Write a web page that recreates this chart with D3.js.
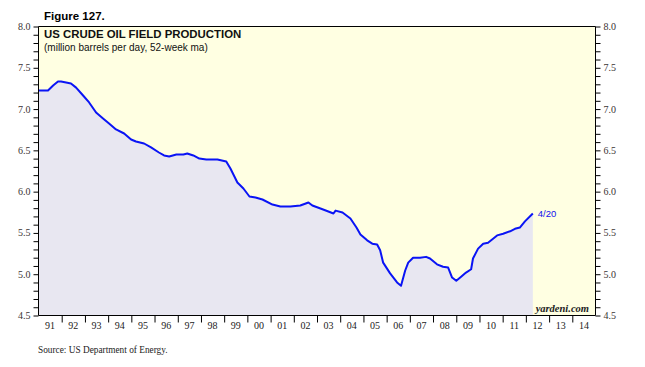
<!DOCTYPE html>
<html><head><meta charset="utf-8">
<script src="https://cdn.jsdelivr.net/npm/d3@7"></script>
<style>body{margin:0;background:#fff}svg{display:block}</style>
</head><body>
<svg id="c" width="645" height="367"></svg>
<script>
// decimal year of each reading
const years = [1991.0,1991.41,1991.63,1991.84,1991.97,1992.19,1992.40,1992.62,1992.92,1993.18,1993.48,1993.78,1994.04,1994.34,1994.69,1994.99,1995.20,1995.55,1995.85,1996.19,1996.41,1996.63,1996.94,1997.24,1997.41,1997.67,1997.93,1998.23,1998.71,1999.09,1999.27,1999.57,1999.83,2000.09,2000.35,2000.65,2001.08,2001.42,2001.85,2002.28,2002.63,2002.80,2003.15,2003.49,2003.71,2003.80,2004.10,2004.44,2004.70,2004.87,2005.16,2005.38,2005.59,2005.72,2005.85,2006.15,2006.45,2006.62,2006.80,2006.93,2007.14,2007.44,2007.70,2007.87,2008.17,2008.43,2008.65,2008.82,2009.00,2009.17,2009.42,2009.64,2009.72,2009.94,2010.16,2010.37,2010.76,2011.02,2011.32,2011.53,2011.74,2011.96,2012.30];
// million barrels per day, 52-week moving average
const production = [7.225,7.225,7.285,7.334,7.334,7.322,7.31,7.26,7.164,7.08,6.958,6.886,6.825,6.753,6.704,6.631,6.607,6.583,6.535,6.474,6.438,6.426,6.45,6.45,6.462,6.438,6.401,6.389,6.389,6.365,6.28,6.11,6.038,5.941,5.929,5.905,5.844,5.82,5.82,5.832,5.869,5.832,5.796,5.76,5.735,5.77,5.747,5.675,5.566,5.482,5.41,5.37,5.36,5.29,5.14,5.01,4.90,4.86,5.045,5.14,5.20,5.20,5.21,5.19,5.12,5.09,5.08,4.96,4.92,4.96,5.02,5.06,5.19,5.31,5.37,5.38,5.47,5.49,5.52,5.55,5.565,5.64,5.735];
const yTicks = [4.5,5.0,5.5,6.0,6.5,7.0,7.5,8.0];
const yearLabels = ["91","92","93","94","95","96","97","98","99","00","01","02","03","04","05","06","07","08","09","10","11","12","13","14"];
const lastLabel = "4/20";

const toDate = y => { const yr = Math.floor(y); const s = new Date(yr,0,1), e = new Date(yr+1,0,1); return new Date(+s + (y-yr)*(e-s)); };
const data = years.map((y,i)=>({d:toDate(y), v:production[i]}));

const svg = d3.select("#c");
const L=38.5, R=595.5, T=26.5, B=315.5;
const x = d3.scaleTime().domain([new Date(1991,0,1), new Date(2015,0,1)]).range([L,R]);
const y = d3.scaleLinear().domain([4.5,8.0]).range([B,T]);
const serif = "'Liberation Serif', 'Times New Roman', serif";
const sans = "'Liberation Sans', Arial, sans-serif";

// background
svg.append("rect").attr("x",L).attr("y",T).attr("width",R-L).attr("height",B-T).attr("fill","#FFFFE2");

// area
svg.append("path").datum(data)
  .attr("d", d3.area().x(d=>x(d.d)).y0(B).y1(d=>y(d.v)))
  .attr("fill","#E8E7F1");
svg.append("path").datum(data)
  .attr("d", d3.line().x(d=>x(d.d)).y(d=>y(d.v)))
  .attr("fill","none").attr("stroke","#0A14F5").attr("stroke-width",2).attr("stroke-linejoin","round");

const minor = d3.range(45,81).map(v=>v/10);
// left axis
const la = svg.append("g").attr("transform",`translate(${L},0)`);
la.call(d3.axisLeft(y).tickValues(minor).tickSize(5).tickFormat(""));
la.selectAll(".domain").remove();
la.append("line").attr("y1",T).attr("y2",B).attr("stroke","#000");
const ra = svg.append("g").attr("transform",`translate(${R},0)`);
ra.call(d3.axisRight(y).tickValues(minor).tickSize(5).tickFormat(""));
ra.selectAll(".domain").remove();
ra.append("line").attr("y1",T).attr("y2",B).attr("stroke","#000");
svg.selectAll(".tick line").attr("stroke","#000");

svg.append("g").selectAll("text").data(yTicks).join("text")
  .attr("x",L-8).attr("y",d=>y(d)).attr("dy","0.35em").attr("text-anchor","end")
  .attr("font-family",serif).attr("font-size",10).attr("fill","#3a3333")
  .text(d=>d.toFixed(1));
svg.append("g").selectAll("text").data(yTicks).join("text")
  .attr("x",R+8).attr("y",d=>y(d)).attr("dy","0.35em").attr("text-anchor","start")
  .attr("font-family",serif).attr("font-size",10).attr("fill","#3a3333")
  .text(d=>d.toFixed(1));

// top & bottom lines
svg.append("line").attr("x1",L).attr("x2",R).attr("y1",T).attr("y2",T).attr("stroke","#000");
const ba = svg.append("g").attr("transform",`translate(0,${B})`);
const yearStarts = d3.range(1992,2015).map(yy=>new Date(yy,0,1));
ba.call(d3.axisBottom(x).tickValues(yearStarts).tickSize(7).tickFormat(""));
ba.selectAll(".domain").remove();
ba.selectAll(".tick line").attr("stroke","#000");
ba.append("line").attr("x1",L).attr("x2",R).attr("stroke","#000");
svg.append("g").selectAll("text").data(yearLabels).join("text")
  .attr("x",(d,i)=>(x(new Date(1991+i,0,1))+x(new Date(1992+i,0,1)))/2)
  .attr("y",B+13).attr("text-anchor","middle")
  .attr("font-family",serif).attr("font-size",10).attr("fill","#222")
  .text(d=>d);

// texts
svg.append("text").attr("x",44).attr("y",20).attr("font-family",sans)
  .attr("font-weight","bold").attr("font-size",11.5).text("Figure 127.");
svg.append("text").attr("x",44).attr("y",38).attr("font-family",sans)
  .attr("font-weight","bold").attr("font-size",11.4).attr("fill","#111").text("US CRUDE OIL FIELD PRODUCTION");
svg.append("text").attr("x",44).attr("y",50.5).attr("font-family",sans)
  .attr("font-size",10).attr("fill","#111").text("(million barrels per day, 52-week ma)");
svg.append("text").attr("x",589).attr("y",312).attr("text-anchor","end")
  .attr("font-family",serif).attr("font-style","italic").attr("font-weight","bold")
  .attr("font-size",10.5).attr("fill","#222").text("yardeni.com");
svg.append("text").attr("x",38).attr("y",353)
  .attr("font-family",serif).attr("font-size",9.3).attr("fill","#222")
  .text("Source: US Department of Energy.");
const last = data[data.length-1];
svg.append("text").attr("x",x(last.d)+5).attr("y",y(last.v)).attr("dy","0.35em")
  .attr("font-family",sans).attr("font-size",9.5).attr("fill","#1010ee")
  .text(lastLabel);
</script>
</body></html>
